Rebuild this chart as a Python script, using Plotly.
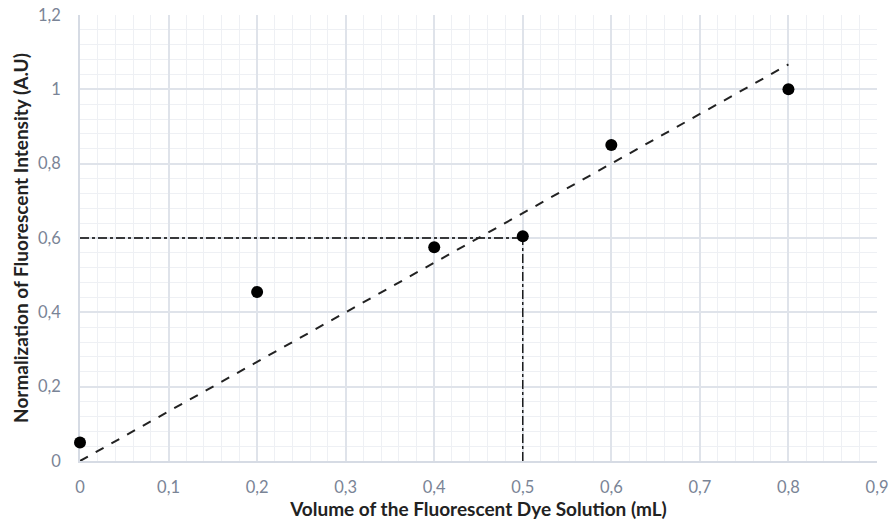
import plotly.graph_objects as go

volume_ml = [0, 0.2, 0.4, 0.5, 0.6, 0.8]
norm_intensity = [0.05, 0.455, 0.575, 0.605, 0.85, 1.0]

trend_x = [0, 0.8]
trend_y = [0, 1.067]

guide_h_x = [0, 0.5]
guide_h_y = [0.6, 0.6]
guide_v_x = [0.5, 0.5]
guide_v_y = [0, 0.6]

fig = go.Figure()
fig.add_trace(go.Scatter(x=guide_h_x, y=guide_h_y, mode="lines",
                         line=dict(color="black", width=1.3, dash="dashdot"), showlegend=False))
fig.add_trace(go.Scatter(x=guide_v_x, y=guide_v_y, mode="lines",
                         line=dict(color="black", width=1.3, dash="dashdot"), showlegend=False))
fig.add_trace(go.Scatter(x=trend_x, y=trend_y, mode="lines",
                         line=dict(color="#222222", width=2, dash="dash"), showlegend=False))
fig.add_trace(go.Scatter(x=volume_ml, y=norm_intensity, mode="markers",
                         marker=dict(color="black", size=12), showlegend=False, cliponaxis=False))

tick_font = dict(family="Lato, Open Sans, sans-serif", size=16.5, color="#7a8496")
title_font = dict(family="Lato, Open Sans, sans-serif", size=19, color="#222222")

fig.update_layout(
    width=892, height=529,
    margin=dict(l=80, r=15, t=15, b=68, autoexpand=False),
    plot_bgcolor="white", paper_bgcolor="white",
    separators=", ",
    xaxis=dict(range=[0, 0.9], dtick=0.1, tick0=0, automargin=False,
               showgrid=True, gridcolor="#dfe3ea", gridwidth=1.5,
               minor=dict(dtick=0.02, showgrid=True, gridcolor="#eef0f4", gridwidth=1),
               showline=True, linecolor="#d6dbe4", linewidth=1.5, layer="below traces",
               zeroline=False, ticks="", tickfont=tick_font, ticklabelstandoff=10,
               ticklabeloverflow="allow",
               title=dict(text="<b>Volume of the Fluorescent Dye Solution (mL)</b>",
                          font=title_font, standoff=4)),
    yaxis=dict(range=[0, 1.2], dtick=0.2, tick0=0, automargin=False,
               showgrid=True, gridcolor="#dfe3ea", gridwidth=1.5,
               minor=dict(dtick=0.04, showgrid=True, gridcolor="#eef0f4", gridwidth=1),
               showline=True, linecolor="#d6dbe4", linewidth=1.5, layer="below traces",
               zeroline=False, ticks="", tickfont=tick_font, ticklabelstandoff=14,
               ticklabeloverflow="allow",
               title=dict(text="<b>Normalization of Fluorescent Intensity (A.U)</b>",
                          font=title_font, standoff=4)),
)

fig.write_html("out.html", config={"displayModeBar": False},
               post_script="document.body.style.margin='0px';")
